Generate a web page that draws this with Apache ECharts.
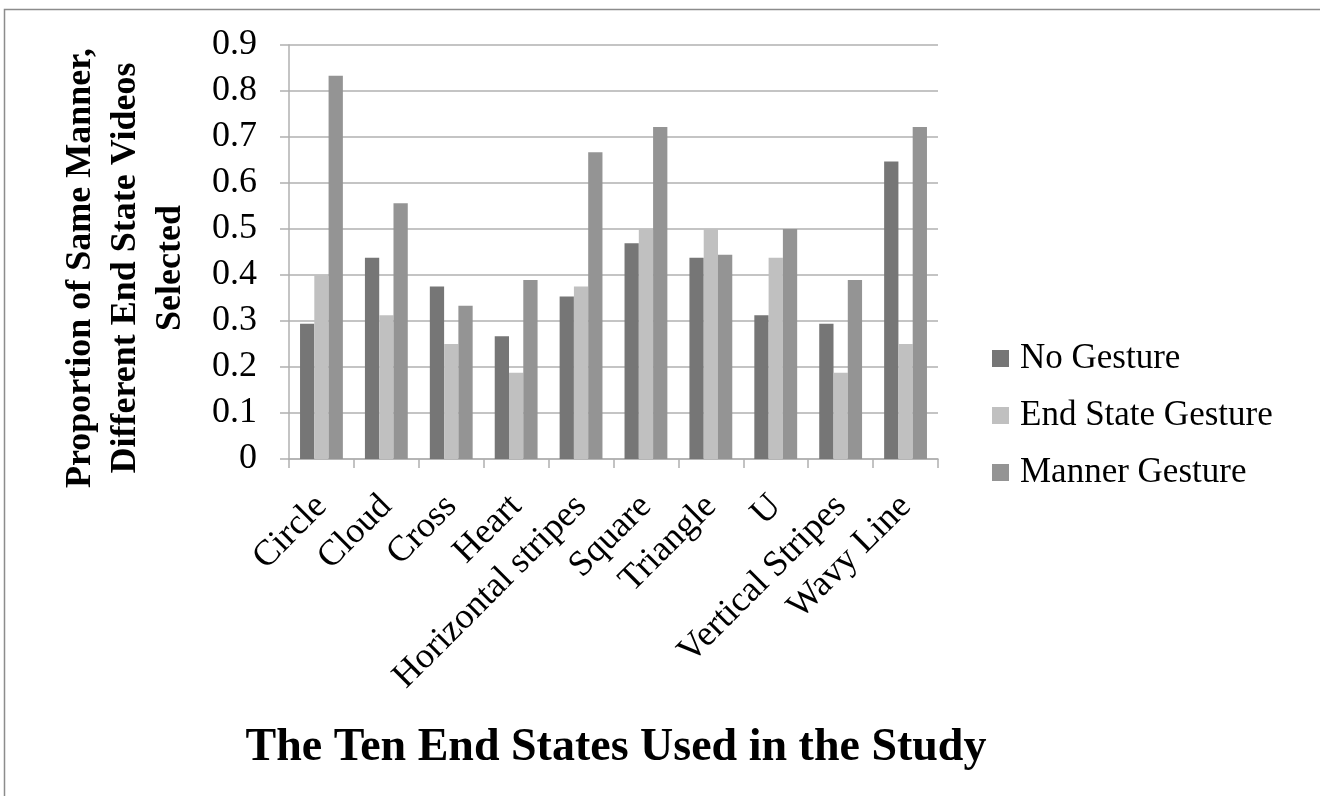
<!DOCTYPE html>
<html>
<head>
<meta charset="utf-8">
<style>
  html, body { margin: 0; padding: 0; background: #ffffff; }
  #chart { width: 1320px; height: 796px; }
</style>
<script src="https://cdn.jsdelivr.net/npm/echarts@6/dist/echarts.min.js"></script>
</head>
<body>
<div id="chart"></div>
<script>
// End states shown to participants
const categories = ['Circle', 'Cloud', 'Cross', 'Heart', 'Horizontal stripes',
  'Square', 'Triangle', 'U', 'Vertical Stripes', 'Wavy Line'];

// Proportion of same-manner / different-end-state videos selected, per condition
const noGesture       = [0.294, 0.4375, 0.375, 0.267, 0.353, 0.469, 0.4375, 0.3125, 0.294, 0.647];
const endStateGesture = [0.400, 0.3125, 0.250, 0.1875, 0.375, 0.500, 0.500, 0.4375, 0.1875, 0.250];
const mannerGesture   = [0.833, 0.556, 0.333, 0.389, 0.667, 0.722, 0.444, 0.500, 0.389, 0.722];

const seriesNames = ['No Gesture', 'End State Gesture', 'Manner Gesture'];
const seriesColors = ['#767676', '#c0c0c0', '#949494'];

const FONT = '"Liberation Serif", "Times New Roman", Times, serif';
const GRID_COLOR = '#b0b0b0';

const chart = echarts.init(document.getElementById('chart'), null, { renderer: 'canvas' });

const values = [noGesture, endStateGesture, mannerGesture];

chart.setOption({
  animation: false,
  backgroundColor: '#ffffff',
  textStyle: { fontFamily: FONT, color: '#000' },
  grid: { left: 289, right: 382, top: 45, bottom: 337, containLabel: false },
  legend: {
    orient: 'vertical',
    left: 987,
    top: 336,
    itemWidth: 17,
    itemHeight: 17,
    itemGap: 22,
    icon: 'rect',
    data: seriesNames,
    textStyle: { fontFamily: FONT, fontSize: 35, color: '#000', padding: [4, 0, 0, 6] }
  },
  xAxis: {
    type: 'category',
    data: categories,
    axisLine: { show: true, lineStyle: { color: GRID_COLOR, width: 1.5 } },
    axisTick: { show: true, length: 9, lineStyle: { color: GRID_COLOR, width: 1.5 } },
    axisLabel: {
      interval: 0,
      rotate: 45,
      margin: 42,
      fontFamily: FONT,
      fontSize: 36,
      color: '#000'
    }
  },
  yAxis: {
    type: 'value',
    min: 0,
    max: 0.9,
    interval: 0.1,
    axisLine: { show: true, lineStyle: { color: GRID_COLOR, width: 1.5 } },
    axisTick: { show: true, inside: false, length: 9, lineStyle: { color: GRID_COLOR, width: 1.5 } },
    splitLine: { show: true, lineStyle: { color: GRID_COLOR, width: 1.5 } },
    axisLabel: {
      margin: 32,
      fontFamily: FONT,
      fontSize: 36,
      color: '#000',
      formatter: v => String(Math.round(v * 10) / 10)
    }
  },
  series: values.map((vals, i) => ({
    name: seriesNames[i],
    type: 'bar',
    data: vals,
    barGap: '0%',
    barCategoryGap: '34%',
    itemStyle: { color: seriesColors[i] }
  })),
  graphic: [
    {
      // outer chart frame
      type: 'rect',
      silent: true,
      shape: { x: 4.5, y: 9.5, width: 1400, height: 900 },
      style: { fill: 'none', stroke: '#8c8c8c', lineWidth: 1.5 }
    },
    {
      type: 'text',
      silent: true,
      x: 126,
      y: 268,
      rotation: Math.PI / 2,
      style: {
        text: 'Proportion of Same Manner,\nDifferent End State Videos\nSelected',
        font: 'bold 36px ' + FONT,
        lineHeight: 45,
        fill: '#000',
        align: 'center',
        verticalAlign: 'middle'
      }
    },
    {
      type: 'text',
      silent: true,
      x: 616,
      y: 748,
      style: {
        text: 'The Ten End States Used in the Study',
        font: 'bold 46px ' + FONT,
        fill: '#000',
        align: 'center',
        verticalAlign: 'middle'
      }
    }
  ]
});
</script>
</body>
</html>
